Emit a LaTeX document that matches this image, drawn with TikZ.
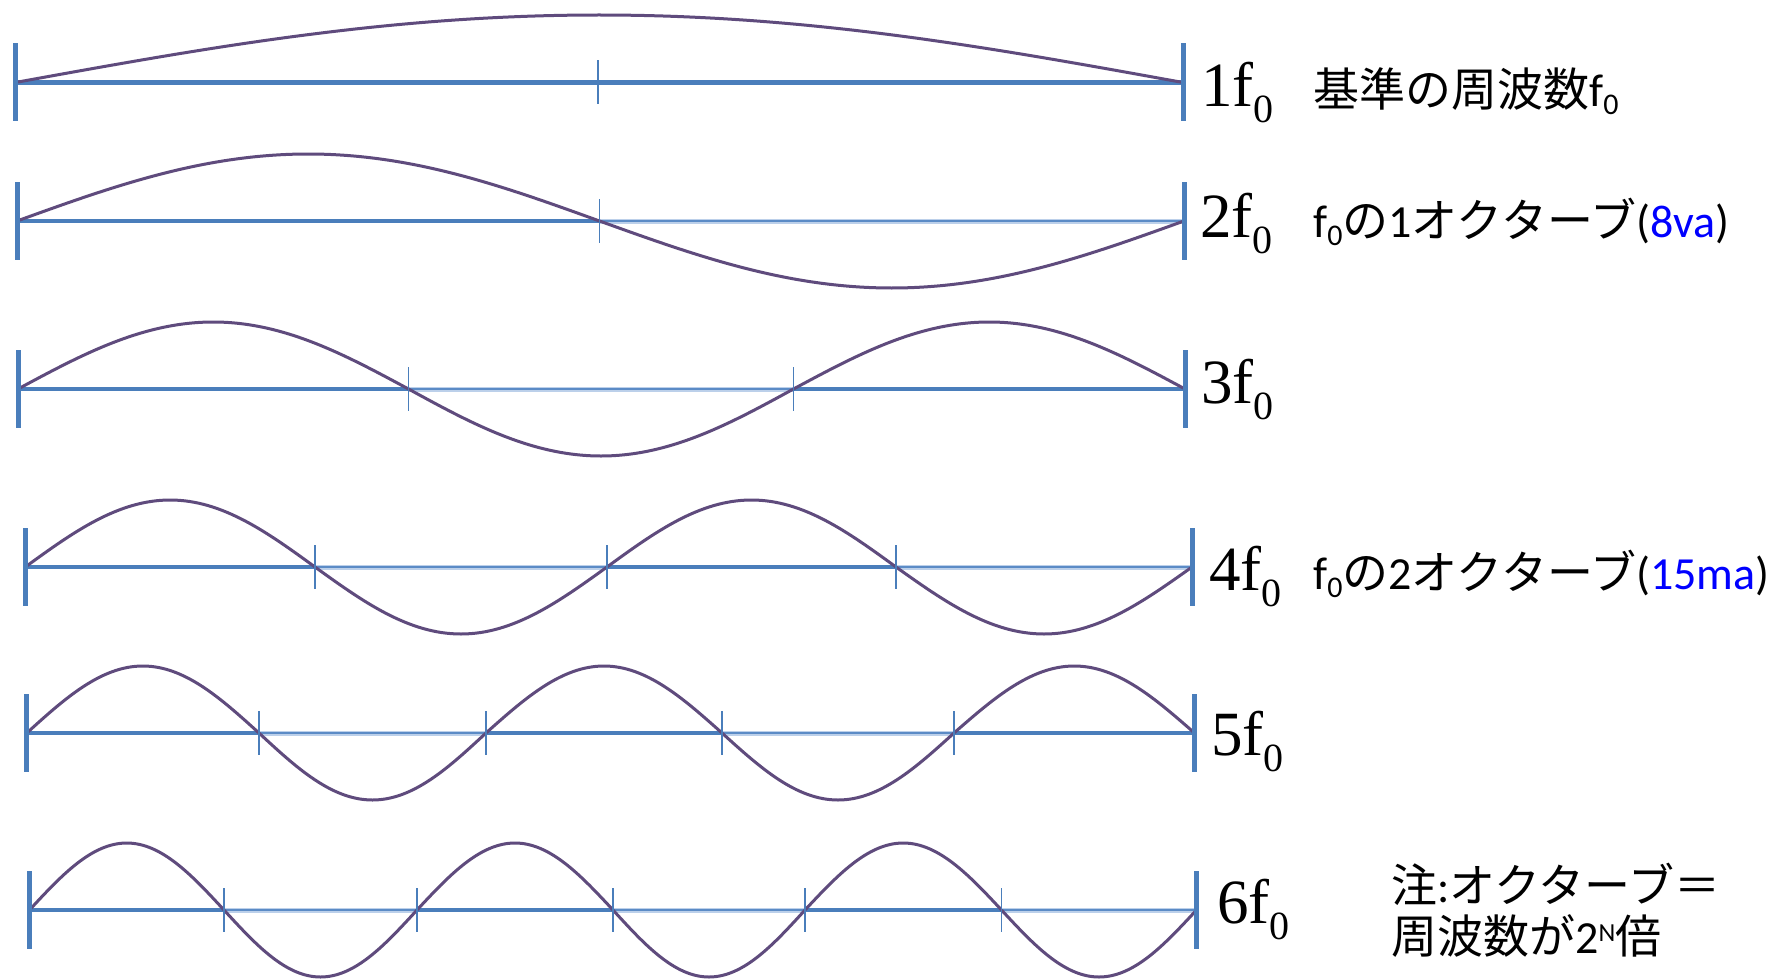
\documentclass[tikz,border=0pt]{standalone}
\usepackage{fontspec}
\setmainfont{Liberation Serif}
\newfontfamily\jpfont{Noto Sans CJK JP}
\newfontfamily\calfont{Carlito}
\definecolor{axisblue}{HTML}{4A7EBB}
\definecolor{thinblue}{HTML}{5B8BC6}
\definecolor{haloblue}{HTML}{BCD0EA}
\definecolor{wave}{HTML}{5F4B7D}
\tikzset{
  thickax/.style={axisblue, line width=4.6},
  thinax/.style={thinblue, line width=2.2},
  halo/.style={haloblue, line width=5},
  endtick/.style={axisblue, line width=5},
  midtick/.style={axisblue, line width=1.7},
  wavecurve/.style={wave, line width=3},
  harm/.style={inner sep=0, anchor=base west, font=\fontsize{63}{63}\selectfont},
  note/.style={inner sep=0, anchor=base west, font=\jpfont\fontsize{46}{51}\selectfont},
}
\newcommand\hf[1]{#1f\raisebox{-16pt}{\fontsize{40}{40}\selectfont 0}}
\newcommand\lf{{\calfont f\raisebox{-8pt}{\fontsize{30}{30}\selectfont 0}}}
\newcommand\harmrow[4]{%
  \foreach \xx [count=\i, remember=\xx as \lastx (initially 0)] in {#2}{%
    \ifnum\i>1
      \pgfmathsetmacro\mx{(\lastx+\xx)/2}%
      \ifodd\i
        \pgfmathsetmacro\py{#1+67}%
        \draw[halo] (\lastx,#1) -- (\xx,#1);
        \draw[thinax] (\lastx,#1) -- (\xx,#1);
      \else
        \pgfmathsetmacro\py{#1-67}%
        \draw[thickax] (\lastx,#1) -- (\xx,#1);
      \fi
      \draw[wavecurve] (\lastx,#1) sin (\mx,\py) cos (\xx,#1);
    \fi
  }%
  \foreach \xx in {#2}{\draw[midtick] (\xx,#1-22) -- (\xx,#1+22);}%
  \draw[endtick] (#3,#1-39) -- (#3,#1+39);
  \draw[endtick] (#4,#1-39) -- (#4,#1+39);
}
\begin{document}
\begin{tikzpicture}[x=1pt,y=-1pt]
\useasboundingbox[fill=white] (0,0) rectangle (1769,979);
% row 1: one lobe over the whole span, tick at the middle
\draw[thickax] (15.3,82.5) -- (1183,82.5);
\draw[wavecurve] (15.3,82.5) sin (599,15) cos (1183,82.5);
\draw[midtick] (598,60.5) -- (598,104.5);
\draw[endtick] (15.3,43.5) -- (15.3,121.5);
\draw[endtick] (1183,43.5) -- (1183,121.5);
\harmrow{221}{17,599.5,1184}{17}{1184}
\harmrow{389}{18,408.5,793.5,1185}{18}{1185}
\harmrow{567}{25.3,315,607,896,1192}{25.3}{1192}
\harmrow{733}{26.8,259,486,722,954,1194.5}{26.8}{1194.5}
\harmrow{910}{29.5,224,417,613,805,1001.5,1196.5}{29.5}{1196.5}
\node[harm] (h1) at (1201,107) {\hf{1}};
\node[harm] (h2) at (1200,237) {\hf{2}};
\node[harm] (h3) at (1201,403) {\hf{3}};
\node[harm] (h4) at (1209,590) {\hf{4}};
\node[harm] (h5) at (1211,755) {\hf{5}};
\node[harm] (h6) at (1217,923) {\hf{6}};
\node[note] (t1) at (1313,107) {基準の周波数\lf};
\node[note] (t2) at (1313,237) {\lf の{\calfont 1}オクターブ{\calfont(\textcolor{blue}{8va})}};
\node[note] (t4) at (1313,589) {\lf の{\calfont 2}オクターブ{\calfont(\textcolor{blue}{15ma})}};
\node[note, align=left] (n1) at (1391,953) {注{\calfont:}オクターブ＝\\周波数が{\calfont 2\raisebox{12pt}{\fontsize{26}{26}\selectfont N}}倍};
\end{tikzpicture}
\end{document}
